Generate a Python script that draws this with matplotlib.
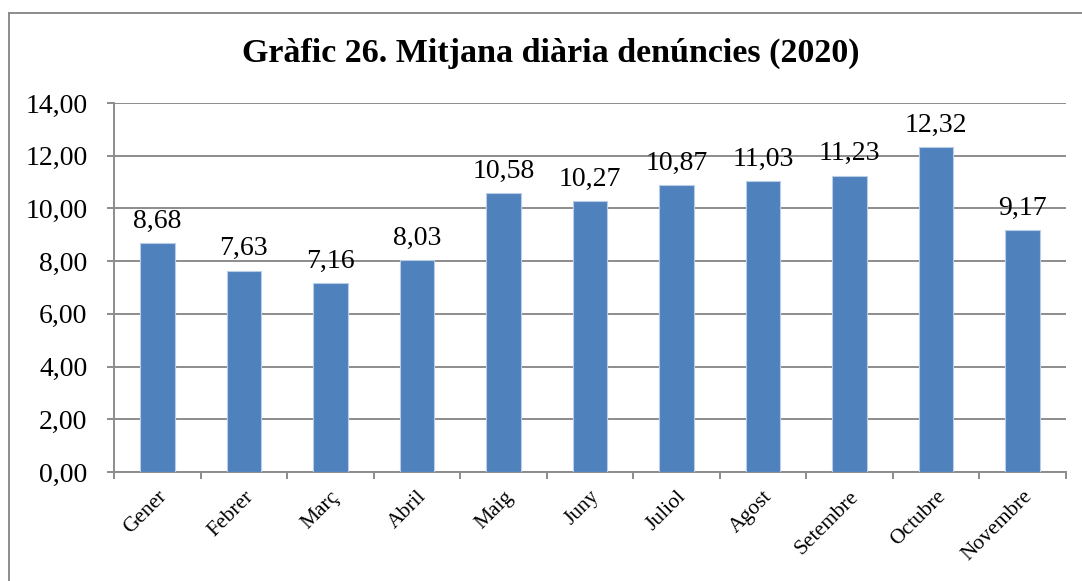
import matplotlib.pyplot as plt
from matplotlib.lines import Line2D

# data
months = ['Gener', 'Febrer', 'Març', 'Abril', 'Maig', 'Juny', 'Juliol',
          'Agost', 'Setembre', 'Octubre', 'Novembre']
values = [8.68, 7.63, 7.16, 8.03, 10.58, 10.27, 10.87, 11.03, 11.23, 12.32, 9.17]
y_ticks = [0, 2, 4, 6, 8, 10, 12, 14]

plt.rcParams['font.family'] = ['Liberation Serif', 'DejaVu Serif']

fig = plt.figure(figsize=(10.82, 5.81), dpi=100)
ax = fig.add_axes([114 / 1082, 1 - 472 / 581, (1066 - 114) / 1082, (472 - 103) / 581])

x = range(len(months))
bars = ax.bar(x, values, width=0.4, color='#4f81bd', edgecolor='#b9cde5',
              linewidth=0.8, zorder=3)

for xi, v in zip(x, values):
    ax.annotate(f'{v:.2f}'.replace('.', ','), (xi, v), xytext=(0, 7),
                textcoords='offset points', ha='center', va='bottom',
                fontsize=20, zorder=4)

ax.set_xlim(-0.5, len(months) - 0.5)
ax.set_ylim(0, 14)
ax.set_yticks(y_ticks)
ax.set_yticklabels([f'{t:.2f}'.replace('.', ',') for t in y_ticks], fontsize=20)
ax.grid(axis='y', color='#8c8c8c', linewidth=1.4, zorder=0)

# category labels at centers, tick marks at boundaries
ax.set_xticks(list(x))
ax.set_xticklabels(months, rotation=45, ha='right', rotation_mode='anchor',
                   fontsize=15.5)
ax.tick_params(axis='x', length=0, pad=11)
ax.set_xticks([i - 0.5 for i in range(len(months) + 1)], minor=True)
ax.tick_params(axis='x', which='minor', length=5, width=1.4, color='#8c8c8c')
ax.tick_params(axis='y', length=5, width=1.4, color='#8c8c8c', pad=14)

for side in ['top', 'right']:
    ax.spines[side].set_visible(False)
for side in ['left', 'bottom']:
    ax.spines[side].set_color('#8c8c8c')
    ax.spines[side].set_linewidth(1.4)

fig.text(551 / 1082, 1 - 53 / 581, 'Gràfic 26. Mitjana diària denúncies (2020)',
         ha='center', va='center', fontsize=24.5, fontweight='bold')

# outer chart frame (left and top edges)
fig.add_artist(Line2D([8.5 / 1082, 8.5 / 1082], [0, 1 - 12.5 / 581],
                      transform=fig.transFigure, color='#8c8c8c', linewidth=1.4))
fig.add_artist(Line2D([8.5 / 1082, 1], [1 - 12.5 / 581, 1 - 12.5 / 581],
                      transform=fig.transFigure, color='#8c8c8c', linewidth=1.4))

fig.savefig('out.png', dpi=100)
